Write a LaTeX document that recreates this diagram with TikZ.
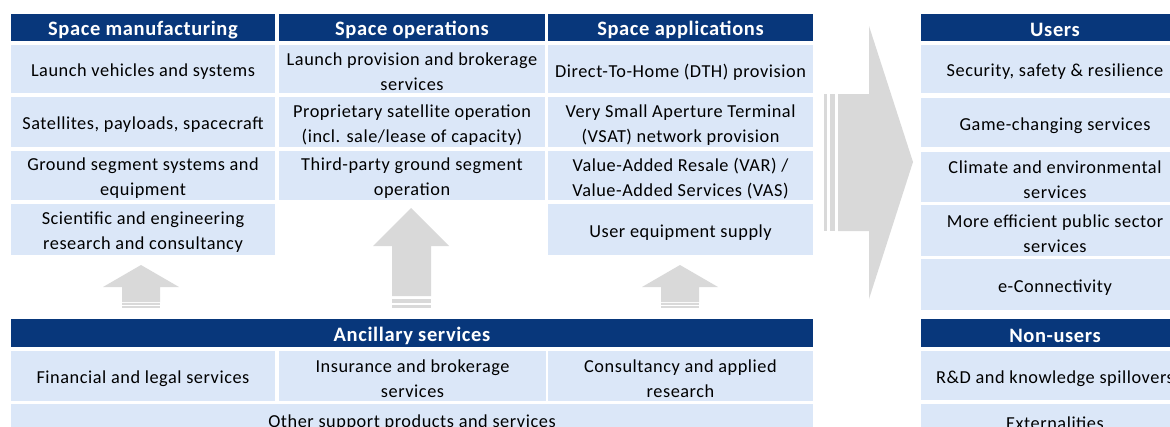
\documentclass[tikz,border=0pt]{standalone}
\usepackage{fontspec}
\setmainfont{Carlito}[LetterSpace=3]
\definecolor{db}{HTML}{08377B}
\definecolor{lb}{HTML}{DBE7F8}
\definecolor{gr}{HTML}{D9D9D9}
\newcommand{\bodyf}{\fontsize{18.3}{25}\selectfont}
\newcommand{\hdrf}{\fontsize{20.5}{25}\selectfont\bfseries}
% box with its text, the text set a little below the centre as in the reference
\newcommand{\Cell}[6]{%
  \node[cell, minimum width=#4, minimum height=#5] (#1) at (#2,#3) {};
  \node[celltext] (#1-t) at ([yshift=-3pt]#1.center) {#6};}
\newcommand{\Head}[6]{%
  \node[hdr, minimum width=#4, minimum height=#5] (#1) at (#2,#3) {};
  \node[hdrtext] (#1-t) at ([yshift=-2.5pt]#1.center) {#6};}
\begin{document}
\begin{tikzpicture}[x=1pt,y=-1pt,
  cell/.style={fill=lb, inner sep=0pt},
  celltext/.style={inner sep=0pt, align=center, font=\bodyf, text=black},
  hdr/.style={fill=db, inner sep=0pt},
  hdrtext/.style={inner sep=0pt, align=center, font=\hdrf, text=white},
  arrowfill/.style={fill=gr}]
\useasboundingbox (0,0) rectangle (1170,426);
\clip (0,0) rectangle (1170,426);
% ---- Space manufacturing
\Head{h1}{143}{27.5}{264}{27}{Space manufacturing}
\Cell{m1}{143}{69}{264}{48}{Launch vehicles and systems}
\Cell{m2}{143}{122}{264}{50}{Satellites, payloads, spacecraft}
\Cell{m3}{143}{175.5}{264}{49}{Ground segment systems and\\equipment}
\Cell{m4}{143}{229.5}{264}{51}{Scientific and engineering\\research and consultancy}
% ---- Space operations
\Head{h2}{412}{27.5}{266}{27}{Space operations}
\Cell{o1}{412}{69}{266}{48}{Launch provision and brokerage\\services}
\Cell{o2}{412}{122}{266}{50}{Proprietary satellite operation\\(incl. sale/lease of capacity)}
\Cell{o3}{412}{175.5}{266}{49}{Third-party ground segment\\operation}
% ---- Space applications
\Head{h3}{680.5}{27.5}{265}{27}{Space applications}
\Cell{a1}{680.5}{69}{265}{48}{Direct-To-Home (DTH) provision}
\Cell{a2}{680.5}{122}{265}{50}{Very Small Aperture Terminal\\(VSAT) network provision}
\Cell{a3}{680.5}{175.5}{265}{49}{Value-Added Resale (VAR) /\\Value-Added Services (VAS)}
\Cell{a4}{680.5}{229.5}{265}{51}{User equipment supply}
% ---- Users
\Head{h4}{1055}{27.5}{268}{27}{Users}
\Cell{u1}{1055}{69}{268}{48}{Security, safety \& resilience}
\Cell{u2}{1055}{122.5}{268}{49}{Game-changing services}
\Cell{u3}{1055}{177}{268}{50}{Climate and environmental\\services}
\Cell{u4}{1055}{230.5}{268}{51}{More efficient public sector\\services}
\Cell{u5}{1055}{284.5}{268}{51}{e-Connectivity}
% ---- Non-users
\Head{h5}{1055}{333}{268}{28}{Non-users}
\Cell{n1}{1055}{375.5}{268}{49}{R\&D and knowledge spillovers}
\Cell{n2}{1055}{420}{268}{32}{Externalities}
% ---- Ancillary services
\Head{h6}{412}{333}{802}{28}{Ancillary services}
\Cell{s1}{143}{376}{264}{50}{Financial and legal services}
\Cell{s2}{412.5}{376}{267}{50}{Insurance and brokerage\\services}
\Cell{s3}{680.5}{376}{265}{50}{Consultancy and applied\\research}
\Cell{s4}{412}{420}{802}{32}{Other support products and services}
% ---- small up arrows
\fill[arrowfill] (122,302) -- (122,287) -- (103,287) -- (141,265) -- (179,287) -- (160,287) -- (160,302) -- cycle;
\fill[arrowfill] (122,303.3) rectangle (160,305);
\fill[arrowfill] (122,306) rectangle (160,308.3);
\fill[arrowfill] (392,296) -- (392,246) -- (373,246) -- (411,208) -- (449,246) -- (431,246) -- (431,296) -- cycle;
\fill[arrowfill] (392,298.7) rectangle (431,303);
\fill[arrowfill] (392,305.3) rectangle (431,308.3);
\fill[arrowfill] (661,302) -- (661,287) -- (642,287) -- (680,265) -- (718,287) -- (699,287) -- (699,302) -- cycle;
\fill[arrowfill] (661,303.3) rectangle (699,305);
\fill[arrowfill] (661,306) rectangle (699,308.3);
% ---- big right arrow
\fill[arrowfill] (824,94) rectangle (827,231);
\fill[arrowfill] (830,94) rectangle (835,231);
\fill[arrowfill] (838,94) -- (869,94) -- (869,26) -- (913,162) -- (869,299) -- (869,231) -- (838,231) -- cycle;
\end{tikzpicture}
\end{document}
